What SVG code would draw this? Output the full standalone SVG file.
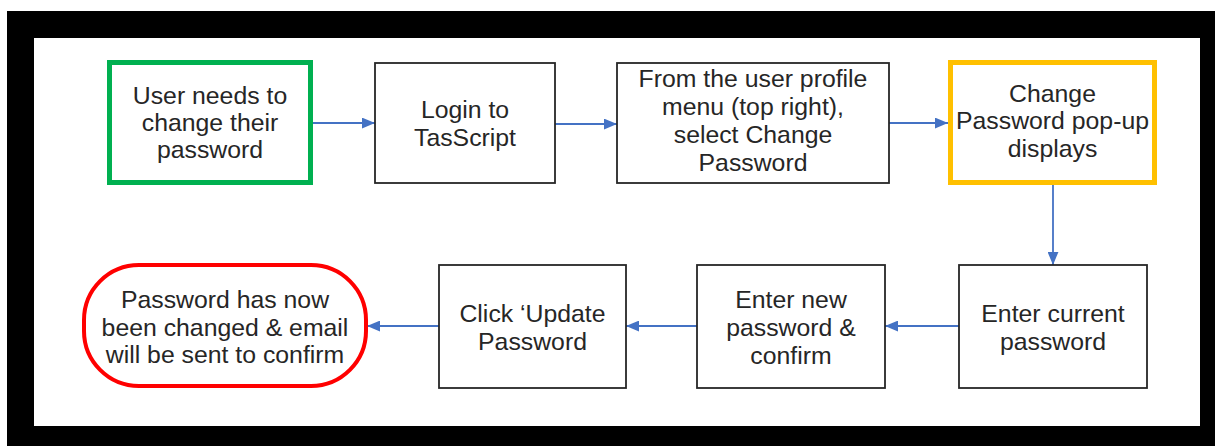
<svg xmlns="http://www.w3.org/2000/svg" width="1215" height="446" viewBox="0 0 1215 446">
<defs>
<style>
.box{fill:#fff;stroke:#262626;stroke-width:1.8}
.t{font-family:"Liberation Sans",Arial,sans-serif;font-size:24.8px;fill:#262626;text-anchor:middle}
.c{stroke:#4472C4;stroke-width:1.8;fill:none}
</style>
<marker id="ah" viewBox="0 0 12 10" refX="12" refY="5" markerWidth="13" markerHeight="11" markerUnits="userSpaceOnUse" orient="auto">
<path d="M0,0 L12,5 L0,10 Z" fill="#4472C4"/>
</marker>
</defs>
<rect x="7" y="11" width="1208" height="435" fill="#000"/>
<rect x="34" y="38" width="1166" height="388" fill="#fff"/>
<g id="connectors">
<line class="c" x1="313" y1="123" x2="375" y2="123" marker-end="url(#ah)"/>
<line class="c" x1="555" y1="124" x2="617" y2="124" marker-end="url(#ah)"/>
<line class="c" x1="889" y1="123" x2="948" y2="123" marker-end="url(#ah)"/>
<line class="c" x1="1053" y1="185" x2="1053" y2="265" marker-end="url(#ah)"/>
<line class="c" x1="959" y1="326" x2="885" y2="326" marker-end="url(#ah)"/>
<line class="c" x1="697" y1="326" x2="626" y2="326" marker-end="url(#ah)"/>
<line class="c" x1="439" y1="326" x2="367" y2="326" marker-end="url(#ah)"/>
</g>
<g id="n1">
<rect x="109.5" y="62.5" width="201" height="120" fill="#fff" stroke="#00B050" stroke-width="5"/>
<text class="t" x="210" y="104">User needs to</text>
<text class="t" x="210" y="131">change their</text>
<text class="t" x="210" y="158">password</text>
</g>
<g id="n2">
<rect class="box" x="375" y="63" width="180" height="120"/>
<text class="t" x="465" y="118">Login to</text>
<text class="t" x="465" y="146">TasScript</text>
</g>
<g id="n3">
<rect class="box" x="617" y="63" width="272" height="120"/>
<text class="t" x="753" y="87">From the user profile</text>
<text class="t" x="753" y="115">menu (top right),</text>
<text class="t" x="753" y="143">select Change</text>
<text class="t" x="753" y="171">Password</text>
</g>
<g id="n4">
<rect x="950.5" y="62.5" width="204" height="120" fill="#fff" stroke="#FFC000" stroke-width="5"/>
<text class="t" x="1052.5" y="102">Change</text>
<text class="t" x="1052.5" y="129">Password pop-up</text>
<text class="t" x="1052.5" y="157">displays</text>
</g>
<g id="n5">
<rect class="box" x="959" y="265" width="188" height="123"/>
<text class="t" x="1053" y="322">Enter current</text>
<text class="t" x="1053" y="350">password</text>
</g>
<g id="n6">
<rect class="box" x="697" y="265" width="188" height="123"/>
<text class="t" x="791" y="308">Enter new</text>
<text class="t" x="791" y="336">password &amp;</text>
<text class="t" x="791" y="364">confirm</text>
</g>
<g id="n7">
<rect class="box" x="439" y="265" width="187" height="123"/>
<text class="t" x="532.5" y="322">Click ‘Update</text>
<text class="t" x="532.5" y="350">Password</text>
</g>
<g id="n8">
<rect x="84" y="265" width="282" height="121" rx="55" ry="55" fill="#fff" stroke="#FF0000" stroke-width="4"/>
<text class="t" x="225" y="308">Password has now</text>
<text class="t" x="225" y="336">been changed &amp; email</text>
<text class="t" x="225" y="363">will be sent to confirm</text>
</g>
</svg>
